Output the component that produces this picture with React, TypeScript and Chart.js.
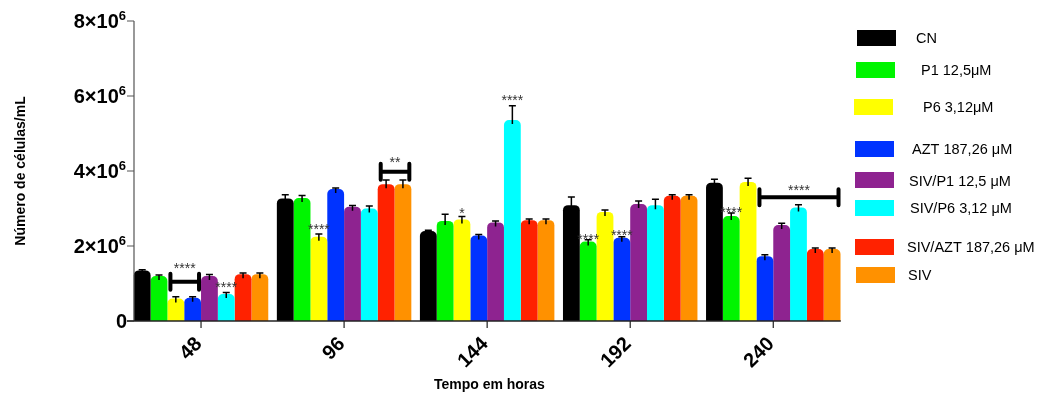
import { useEffect, useRef } from "react";
import { Chart, registerables } from "chart.js";

Chart.register(...registerables);

// ---------- data ----------
const categories = ["48", "96", "144", "192", "240"];
const seriesNames = [
  "CN",
  "P1 12,5μM",
  "P6 3,12μM",
  "AZT 187,26 μM",
  "SIV/P1 12,5 μM",
  "SIV/P6 3,12 μM",
  "SIV/AZT 187,26 μM",
  "SIV",
];
const seriesColors = ["#000000", "#00f500", "#ffff00", "#0033ff", "#8e2390", "#00ffff", "#ff2200", "#ff9100"];

const cnValues = [1.35e6, 3.27e6, 2.4e6, 3.09e6, 3.69e6];
const p1Values = [1.2e6, 3.28e6, 2.67e6, 2.12e6, 2.8e6];
const p6Values = [0.6e6, 2.25e6, 2.71e6, 2.91e6, 3.71e6];
const aztValues = [0.62e6, 3.52e6, 2.28e6, 2.22e6, 1.73e6];
const sivP1Values = [1.2e6, 3.05e6, 2.63e6, 3.12e6, 2.56e6];
const sivP6Values = [0.72e6, 3.0e6, 5.36e6, 3.09e6, 3.03e6];
const sivAztValues = [1.25e6, 3.65e6, 2.69e6, 3.34e6, 1.92e6];
const sivValues = [1.25e6, 3.65e6, 2.69e6, 3.34e6, 1.92e6];

const cnErrors = [0.02e6, 0.1e6, 0.02e6, 0.22e6, 0.09e6];
const p1Errors = [0.03e6, 0.07e6, 0.18e6, 0.05e6, 0.08e6];
const p6Errors = [0.05e6, 0.07e6, 0.08e6, 0.05e6, 0.1e6];
const aztErrors = [0.03e6, 0.03e6, 0.03e6, 0.03e6, 0.04e6];
const sivP1Errors = [0.04e6, 0.03e6, 0.04e6, 0.08e6, 0.05e6];
const sivP6Errors = [0.04e6, 0.07e6, 0.38e6, 0.16e6, 0.07e6];
const sivAztErrors = [0.03e6, 0.11e6, 0.03e6, 0.03e6, 0.03e6];
const sivErrors = [0.03e6, 0.11e6, 0.03e6, 0.03e6, 0.03e6];

const allValues = [cnValues, p1Values, p6Values, aztValues, sivP1Values, sivP6Values, sivAztValues, sivValues];
const allErrors = [cnErrors, p1Errors, p6Errors, aztErrors, sivP1Errors, sivP6Errors, sivAztErrors, sivErrors];

const yTickValues = [0, 2e6, 4e6, 6e6, 8e6];
const yTickMantissas = ["0", "2×10", "4×10", "6×10", "8×10"];
const yTickExponent = "6";
const yMax = 8e6;

const xTitle = "Tempo em horas";
const yTitle = "Número de células/mL";

// significance marks: category index, dataset index, value level, text
const starMarks = [
  { cat: 0, ds: 5, level: 0.96e6, text: "****" },
  { cat: 1, ds: 2, level: 2.51e6, text: "****" },
  { cat: 2, ds: 2, level: 2.93e6, text: "*" },
  { cat: 2, ds: 5, level: 5.95e6, text: "****" },
  { cat: 3, ds: 1, level: 2.23e6, text: "****" },
  { cat: 3, ds: 3, level: 2.35e6, text: "****" },
  { cat: 4, ds: 1, level: 2.96e6, text: "****" },
];
// brackets: category, from dataset, to dataset, line level, label level, text
const bracketMarks = [
  { cat: 0, from: 2, to: 3, level: 1.05e6, labelLevel: 1.47e6, text: "****" },
  { cat: 1, from: 6, to: 7, level: 3.98e6, labelLevel: 4.3e6, text: "**" },
  { cat: 4, from: 3, to: 7, level: 3.3e6, labelLevel: 3.55e6, text: "****" },
];

// ---------- layout / style ----------
const FONT = "'Liberation Sans', Arial, Helvetica, sans-serif";
const AXIS_X = 134;
const legendLayout = [
  { rx: 857, ry: 30, tx: 916, ty: 38 },
  { rx: 856, ry: 62, tx: 921, ty: 70 },
  { rx: 854, ry: 99, tx: 923, ty: 107 },
  { rx: 855, ry: 141, tx: 912, ty: 149 },
  { rx: 855, ry: 172, tx: 909, ty: 181 },
  { rx: 855, ry: 200, tx: 910, ty: 208 },
  { rx: 855, ry: 239, tx: 907, ty: 247 },
  { rx: 856, ry: 267, tx: 908, ty: 275 },
];

const overlayPlugin = {
  id: "overlay",
  afterDatasetsDraw(chart: any) {
    const ctx = chart.ctx as CanvasRenderingContext2D;
    const ys = chart.scales.y;
    ctx.save();
    // error bars
    ctx.strokeStyle = "#000";
    ctx.lineWidth = 1.5;
    allValues.forEach((vals, i) => {
      const meta = chart.getDatasetMeta(i);
      meta.data.forEach((bar: any, j: number) => {
        const y0 = ys.getPixelForValue(vals[j]);
        const y1 = ys.getPixelForValue(vals[j] + allErrors[i][j]);
        ctx.beginPath();
        ctx.moveTo(bar.x, y0 + 4);
        ctx.lineTo(bar.x, y1);
        ctx.moveTo(bar.x - 3.5, y1);
        ctx.lineTo(bar.x + 3.5, y1);
        ctx.stroke();
      });
    });
    // stars
    ctx.fillStyle = "#333";
    ctx.font = `14px ${FONT}`;
    ctx.textAlign = "center";
    ctx.textBaseline = "middle";
    starMarks.forEach((m) => {
      const bar: any = chart.getDatasetMeta(m.ds).data[m.cat];
      ctx.fillText(m.text, bar.x, ys.getPixelForValue(m.level) + 3);
    });
    // brackets
    bracketMarks.forEach((b) => {
      const b1: any = chart.getDatasetMeta(b.from).data[b.cat];
      const b2: any = chart.getDatasetMeta(b.to).data[b.cat];
      const x1 = b1.x - b1.width / 2 + 3;
      const x2 = b2.x + b2.width / 2 - 2;
      const yy = ys.getPixelForValue(b.level);
      ctx.strokeStyle = "#000";
      ctx.lineWidth = 4;
      ctx.lineCap = "round";
      ctx.beginPath();
      ctx.moveTo(x1, yy);
      ctx.lineTo(x2, yy);
      ctx.moveTo(x1, yy - 8);
      ctx.lineTo(x1, yy + 8);
      ctx.moveTo(x2, yy - 8);
      ctx.lineTo(x2, yy + 8);
      ctx.stroke();
      ctx.fillStyle = "#333";
      ctx.fillText(b.text, (x1 + x2) / 2, ys.getPixelForValue(b.labelLevel) + 3);
    });
    ctx.restore();
  },
  afterDraw(chart: any) {
    const ctx = chart.ctx as CanvasRenderingContext2D;
    const xs = chart.scales.x;
    const ys = chart.scales.y;
    const area = chart.chartArea;
    const top = ys.getPixelForValue(yMax);
    const bottom = ys.getPixelForValue(0);
    ctx.save();
    // y axis
    ctx.strokeStyle = "#555";
    ctx.lineWidth = 1.2;
    ctx.beginPath();
    ctx.moveTo(AXIS_X, top);
    ctx.lineTo(AXIS_X, bottom);
    yTickValues.forEach((v) => {
      const py = ys.getPixelForValue(v);
      ctx.moveTo(AXIS_X - 7, py);
      ctx.lineTo(AXIS_X, py);
    });
    ctx.stroke();
    // x axis
    ctx.strokeStyle = "#222";
    ctx.lineWidth = 1.6;
    ctx.beginPath();
    ctx.moveTo(AXIS_X - 7, bottom);
    ctx.lineTo(area.right - 4, bottom);
    ctx.stroke();
    ctx.lineWidth = 1.2;
    ctx.beginPath();
    categories.forEach((_, i) => {
      const px = xs.getPixelForValue(i);
      ctx.moveTo(px, bottom);
      ctx.lineTo(px, bottom + 7);
    });
    ctx.stroke();

    // y tick labels
    ctx.fillStyle = "#000";
    ctx.textBaseline = "middle";
    const right = 126;
    yTickValues.forEach((v, i) => {
      const py = ys.getPixelForValue(v);
      if (v === 0) {
        ctx.font = `bold 20px ${FONT}`;
        ctx.textAlign = "right";
        ctx.fillText(yTickMantissas[i], right + 1, py + 1);
      } else {
        ctx.font = `bold 13px ${FONT}`;
        const sw = ctx.measureText(yTickExponent).width;
        ctx.textAlign = "left";
        ctx.fillText(yTickExponent, right - sw, py - 5);
        ctx.font = `bold 20px ${FONT}`;
        ctx.textAlign = "right";
        ctx.fillText(yTickMantissas[i], right - sw, py + 1);
      }
    });

    // x tick labels (rotated)
    ctx.font = `bold 20px ${FONT}`;
    categories.forEach((c, i) => {
      const px = xs.getPixelForValue(i);
      ctx.save();
      ctx.translate(px - 2, bottom + 20);
      ctx.rotate(-Math.PI / 4);
      ctx.textAlign = "right";
      ctx.textBaseline = "middle";
      ctx.fillText(c, 0, 0);
      ctx.restore();
    });

    // axis titles
    ctx.font = `bold 14px ${FONT}`;
    ctx.textAlign = "center";
    ctx.textBaseline = "middle";
    ctx.fillText(xTitle, (AXIS_X + area.right) / 2, 385);
    ctx.save();
    ctx.translate(21, (top + bottom) / 2);
    ctx.rotate(-Math.PI / 2);
    ctx.font = `bold 14px ${FONT}`;
    ctx.fillText(yTitle, 0, 0);
    ctx.restore();

    // legend
    ctx.font = `14.5px ${FONT}`;
    ctx.textAlign = "left";
    ctx.textBaseline = "middle";
    seriesNames.forEach((name, i) => {
      const L = legendLayout[i];
      ctx.fillStyle = seriesColors[i];
      ctx.fillRect(L.rx, L.ry, 39, 16);
      ctx.fillStyle = "#000";
      ctx.fillText(name, L.tx, L.ty + 1);
    });
    ctx.restore();
  },
};

export default function App() {
  const canvasRef = useRef<HTMLCanvasElement | null>(null);

  useEffect(() => {
    const canvas = canvasRef.current;
    if (!canvas) return;
    const chart = new Chart(canvas, {
      type: "bar",
      data: {
        labels: categories,
        datasets: seriesNames.map((name, i) => ({
          label: name,
          data: allValues[i],
          backgroundColor: seriesColors[i],
          borderWidth: 0,
          borderRadius: 5,
          borderSkipped: "start",
          categoryPercentage: 0.94,
          barPercentage: 1.0,
        })),
      },
      options: {
        responsive: false,
        animation: false,
        devicePixelRatio: 1,
        layout: { padding: { left: 129.5, right: 193.2, top: 21, bottom: 75 } },
        plugins: { legend: { display: false }, tooltip: { enabled: false } },
        scales: {
          x: { display: false, offset: true },
          y: { display: false, min: 0, max: yMax },
        },
      },
      plugins: [overlayPlugin],
    } as any);
    return () => chart.destroy();
  }, []);

  return (
    <div style={{ position: "absolute", left: 0, top: 0, width: 1038, height: 396, background: "#fff" }}>
      <canvas ref={canvasRef} width={1038} height={396} style={{ width: 1038, height: 396, display: "block" }} />
    </div>
  );
}
